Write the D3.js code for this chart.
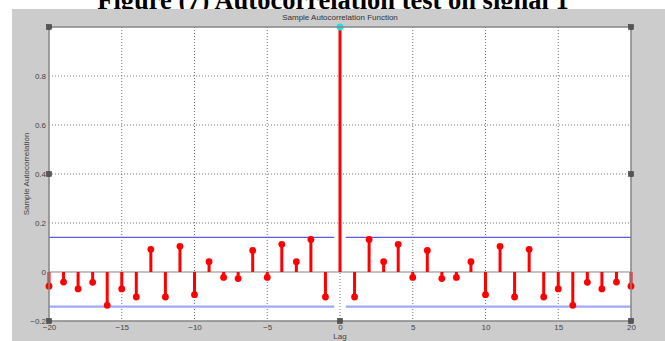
<!DOCTYPE html>
<html>
<head>
<meta charset="utf-8">
<script src="https://cdn.jsdelivr.net/npm/d3@7"></script>
<style>
  html, body { margin: 0; padding: 0; background: #ffffff; }
  svg { display: block; }
</style>
</head>
<body>
<svg id="chart" width="665" height="341"></svg>
<script>
// Lags and sample autocorrelation values
const lags = d3.range(-20, 21);
const acf = [
  -0.058, -0.041, -0.069, -0.042, -0.136, -0.069, -0.102, 0.0925, -0.102, 0.105,
  -0.0925, 0.042, -0.022, -0.027, 0.088, -0.022, 0.113, 0.042, 0.133, -0.102,
  1.0,
  -0.102, 0.133, 0.042, 0.113, -0.022, 0.088, -0.027, -0.022, 0.042, -0.0925,
  0.105, -0.102, 0.0925, -0.102, -0.069, -0.136, -0.042, -0.069, -0.041, -0.058
];
const bound = 0.1416;
const xTicks = [-20, -15, -10, -5, 0, 5, 10, 15, 20];
const yTicks = [-0.2, 0, 0.2, 0.4, 0.6, 0.8];
const gridX = [-15, -10, -5, 0, 5, 10, 15];
const gridY = [0.2, 0.4, 0.6, 0.8];

const svg = d3.select("#chart");
const plotL = 49, plotR = 631, plotT = 27, plotB = 321;

// Figure title (its upper part runs above the page top, the panel covers the bottom)
svg.append("text")
  .attr("x", 333).attr("y", 8.5)
  .attr("text-anchor", "middle")
  .attr("font-family", "'Liberation Serif', 'Times New Roman', serif")
  .attr("font-weight", "bold")
  .attr("font-size", 26.5)
  .attr("fill", "#000")
  .text("Figure (7) Autocorrelation test on signal 1");

// Gray figure panel
svg.append("rect")
  .attr("x", 12).attr("y", 9)
  .attr("width", 665 - 12).attr("height", 341 - 9)
  .attr("fill", "#cccccc");

const x = d3.scaleLinear().domain([-20, 20]).range([plotL, plotR]);
const y = d3.scaleLinear().domain([-0.2, 1]).range([plotB, plotT]);

// Plot area
svg.append("rect")
  .attr("x", plotL).attr("y", plotT)
  .attr("width", plotR - plotL).attr("height", plotB - plotT)
  .attr("fill", "#ffffff");

// Dotted grid
svg.append("g").selectAll("line").data(gridX).join("line")
  .attr("x1", d => x(d)).attr("x2", d => x(d))
  .attr("y1", plotT).attr("y2", plotB)
  .attr("stroke", "#777").attr("stroke-width", 1)
  .attr("stroke-dasharray", "1,2");
svg.append("g").selectAll("line").data(gridY).join("line")
  .attr("x1", plotL).attr("x2", plotR)
  .attr("y1", d => y(d)).attr("y2", d => y(d))
  .attr("stroke", "#777").attr("stroke-width", 1)
  .attr("stroke-dasharray", "1,2");

// Zero line
svg.append("line")
  .attr("x1", plotL).attr("x2", plotR)
  .attr("y1", y(0)).attr("y2", y(0))
  .attr("stroke", "#888").attr("stroke-width", 1.2);

// Confidence bounds (split around lag 0)
const segs = [[-20, -0.4], [0.4, 20]];
svg.append("g").selectAll("line").data(segs).join("line")
  .attr("x1", d => x(d[0])).attr("x2", d => x(d[1]))
  .attr("y1", y(bound)).attr("y2", y(bound))
  .attr("stroke", "#5b5bea").attr("stroke-width", 1.2);
svg.append("g").selectAll("line").data(segs).join("line")
  .attr("x1", d => x(d[0])).attr("x2", d => x(d[1]))
  .attr("y1", y(-bound)).attr("y2", y(-bound))
  .attr("stroke", "#a3a8fb").attr("stroke-width", 2.2);

// Stems and markers
const pts = lags.map((l, i) => ({ lag: l, v: acf[i] }));
svg.append("g").selectAll("line").data(pts).join("line")
  .attr("x1", d => x(d.lag)).attr("x2", d => x(d.lag))
  .attr("y1", y(0)).attr("y2", d => y(d.v))
  .attr("stroke", "#ff0000").attr("stroke-width", 3);
svg.append("g").selectAll("circle").data(pts).join("circle")
  .attr("cx", d => x(d.lag)).attr("cy", d => y(d.v))
  .attr("r", 3.4)
  .attr("fill", d => d.lag === 0 ? "#22e0e0" : "#ff0000");

// Axes
const xAxis = d3.axisBottom(x).tickValues(xTicks).tickFormat(d3.format("d")).tickSize(0).tickPadding(3);
const yAxis = d3.axisLeft(y).tickValues(yTicks).tickFormat(d => d === 0 ? "0" : d3.format(".1f")(d)).tickSize(0).tickPadding(3);

const gx = svg.append("g").attr("transform", `translate(0,${plotB})`).call(xAxis);
const gy = svg.append("g").attr("transform", `translate(${plotL},0)`).call(yAxis);
[gx, gy].forEach(g => {
  g.select(".domain").remove();
  g.selectAll("text")
    .attr("font-family", "'Liberation Sans', Arial, sans-serif")
    .attr("font-size", 8)
    .attr("fill", "#444");
});

// Box border
svg.append("rect")
  .attr("x", plotL).attr("y", plotT)
  .attr("width", plotR - plotL).attr("height", plotB - plotT)
  .attr("fill", "none")
  .attr("stroke", "#858585").attr("stroke-width", 1.5);

// Selection handles on the axes box
const handles = [
  [plotL, plotT], [plotR, plotT], [plotL, plotB], [plotR, plotB],
  [x(0), plotB], [plotL, y(0.4)], [plotR, y(0.4)]
];
svg.append("g").selectAll("rect").data(handles).join("rect")
  .attr("x", d => d[0] - 2.5).attr("y", d => d[1] - 2.5)
  .attr("width", 5).attr("height", 5)
  .attr("fill", "#555").attr("stroke", "#333").attr("stroke-width", 0.5);

// Labels
svg.append("text")
  .attr("x", 340).attr("y", 20)
  .attr("text-anchor", "middle")
  .attr("font-family", "'Liberation Sans', Arial, sans-serif")
  .attr("font-size", 8)
  .attr("fill", "#333")
  .text("Sample Autocorrelation Function");

svg.append("text")
  .attr("x", 340).attr("y", 339)
  .attr("text-anchor", "middle")
  .attr("font-family", "'Liberation Sans', Arial, sans-serif")
  .attr("font-size", 8)
  .attr("fill", "#444")
  .text("Lag");

svg.append("text")
  .attr("transform", `translate(29,${y(0.4)}) rotate(-90)`)
  .attr("text-anchor", "middle")
  .attr("font-family", "'Liberation Sans', Arial, sans-serif")
  .attr("font-size", 8)
  .attr("fill", "#444")
  .text("Sample Autocorrelation");
</script>
</body>
</html>
